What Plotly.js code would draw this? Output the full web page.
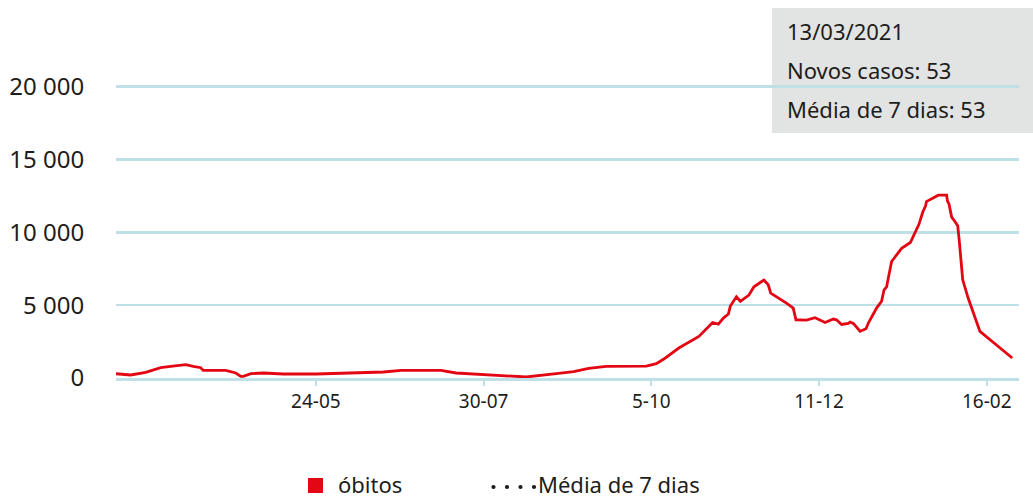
<!DOCTYPE html>
<html>
<head>
<meta charset="utf-8">
<script src="https://cdn.plot.ly/plotly-3.0.1.min.js"></script>
<style>html,body{margin:0;padding:0;background:#fff;}#chart{width:1033px;height:498px;}</style>
</head>
<body>
<div id="chart"></div>
<script>
// ---- data ----
var dates = [
  '2020-03-05','2020-03-11','2020-03-17','2020-03-23','2020-03-27','2020-04-02','2020-04-05','2020-04-08',
  '2020-04-09','2020-04-18','2020-04-22','2020-04-24','2020-04-25','2020-04-28','2020-05-03','2020-05-11',
  '2020-05-24','2020-06-07','2020-06-20','2020-06-27','2020-07-02','2020-07-13','2020-07-19','2020-07-29',
  '2020-08-08','2020-08-16','2020-08-28','2020-09-04','2020-09-10','2020-09-17','2020-10-03','2020-10-07',
  '2020-10-10','2020-10-16','2020-10-24','2020-10-29 12:00','2020-10-31 19:00','2020-11-02 19:00','2020-11-04 19:00','2020-11-05 14:00',
  '2020-11-08','2020-11-09 14:00','2020-11-13','2020-11-15','2020-11-19','2020-11-20 17:00','2020-11-21 17:00','2020-11-25 10:00',
  '2020-11-28','2020-11-30 17:00','2020-12-01 19:00','2020-12-06','2020-12-09 10:00','2020-12-13 10:00','2020-12-16 17:00','2020-12-18',
  '2020-12-20','2020-12-22 17:00','2020-12-23 10:00','2020-12-24 17:00','2020-12-27 10:00','2020-12-29 19:00','2020-12-30 17:00','2021-01-03',
  '2021-01-05','2021-01-06','2021-01-07','2021-01-09','2021-01-11','2021-01-13','2021-01-16 12:00','2021-01-19 22:00',
  '2021-01-21 12:00','2021-01-22 14:00','2021-01-22 22:00','2021-01-27 16:00','2021-01-31','2021-01-31 07:00','2021-01-31 22:00','2021-02-02',
  '2021-02-03 07:00','2021-02-04 10:00','2021-02-05','2021-02-05 14:00','2021-02-06 10:00','2021-02-08 14:00','2021-02-13 07:00','2021-02-26 05:00'
];
var casos = [
  295,206,384,707,796,912,796,707,
  521,521,343,110,110,295,343,274,
  274,364,412,521,521,521,343,247,
  158,69,295,432,659,796,809,981,
  1303,2058,2854,3814,3704,4116,4390,4939,
  5577,5268,5694,6263,6723,6400,5831,5461,
  5145,4802,3999,3979,4137,3814,4047,3999,
  3677,3746,3842,3746,3210,3382,3773,4802,
  5268,6057,6263,7999,8458,8904,9302,10551,
  11415,11820,12115,12554,12554,12163,11957,11045,
  10743,10448,9487,8115,6743,5488,3197,1372
];
var tickDates = ['2020-05-24','2020-07-30','2020-10-05','2020-12-11','2021-02-16'];
var tickLabels = ['24-05','30-07','5-10','11-12','16-02'];
var yTicks = [0, 5000, 10000, 15000, 20000];
var seriesName = 'óbitos';
var avgName = 'Média de 7 dias';
var infoLines = ['13/03/2021', 'Novos casos: 53', 'Média de 7 dias: 53'];

// ---- layout geometry ----
var W = 1033, H = 498;
var M = {l: 116, r: 14, t: 79, b: 120};
var PW = W - M.l - M.r, PH = H - M.t - M.b;
function px(x) { return (x - M.l) / PW; }
function py(y) { return (H - M.b - y) / PH; }

var RED = '#e30613';
var GRID = '#bfe0e6';
var TXT = '#1d1d1b';
var FONT = 'Noto Sans, Open Sans, sans-serif';

var trace = {
  type: 'scatter', mode: 'lines', x: dates, y: casos, name: seriesName,
  line: {color: RED, width: 2.8, shape: 'linear'}, hoverinfo: 'skip'
};

var shapes = [
  {type: 'rect', xref: 'paper', yref: 'paper', x0: px(772), x1: px(1040), y0: py(133), y1: py(8),
   fillcolor: '#e2e3e3', line: {width: 0}, layer: 'below'},
  {type: 'rect', xref: 'paper', yref: 'paper', x0: px(308), x1: px(323), y0: py(493), y1: py(478),
   fillcolor: RED, line: {width: 0}}
];
// legend dots for the 7-day average key
[493.5, 507, 520.5, 534].forEach(function (cx) {
  shapes.push({type: 'circle', xref: 'paper', yref: 'paper',
    x0: px(cx - 2.1), x1: px(cx + 2.1), y0: py(487 + 2.1), y1: py(487 - 2.1),
    fillcolor: TXT, line: {width: 0}});
});

var annotations = [
  {xref: 'paper', yref: 'paper', x: px(785), y: py(31), xanchor: 'left', yanchor: 'middle', showarrow: false,
   text: infoLines[0], font: {family: FONT, size: 22, color: TXT}},
  {xref: 'paper', yref: 'paper', x: px(785), y: py(70), xanchor: 'left', yanchor: 'middle', showarrow: false,
   text: infoLines[1], font: {family: FONT, size: 22, color: TXT}},
  {xref: 'paper', yref: 'paper', x: px(785), y: py(109), xanchor: 'left', yanchor: 'middle', showarrow: false,
   text: infoLines[2], font: {family: FONT, size: 22, color: TXT}},
  {xref: 'paper', yref: 'paper', x: px(336), y: py(483.5), xanchor: 'left', yanchor: 'middle', showarrow: false,
   text: seriesName, font: {family: FONT, size: 22, color: TXT}},
  {xref: 'paper', yref: 'paper', x: px(536), y: py(483.5), xanchor: 'left', yanchor: 'middle', showarrow: false,
   text: avgName, font: {family: FONT, size: 22, color: TXT}}
];

var layout = {
  width: W, height: H, margin: M,
  paper_bgcolor: '#ffffff', plot_bgcolor: '#ffffff',
  showlegend: false, hovermode: false,
  separators: ', ',
  font: {family: FONT, color: TXT},
  xaxis: {
    type: 'date', range: ['2020-03-05 03:20', '2021-02-28 21:36'],
    tickmode: 'array', tickvals: tickDates, ticktext: tickLabels,
    ticks: 'outside', ticklen: 5, tickwidth: 2, tickcolor: GRID,
    showgrid: false, zeroline: false,
    showline: true, linecolor: GRID, linewidth: 2.5,
    tickfont: {family: FONT, size: 19, color: TXT}
  },
  yaxis: {
    range: [0, 20529],
    tickmode: 'array', tickvals: yTicks, tickformat: ',d', separatethousands: true,
    showgrid: true, gridcolor: GRID, gridwidth: 2.5, zeroline: false, showline: false,
    ticks: 'outside', ticklen: 26, tickcolor: 'rgba(0,0,0,0)',
    tickfont: {family: FONT, size: 24, color: TXT}
  },
  shapes: shapes,
  annotations: annotations
};

Plotly.newPlot('chart', [trace], layout, {displayModeBar: false, staticPlot: true});
</script>
</body>
</html>
